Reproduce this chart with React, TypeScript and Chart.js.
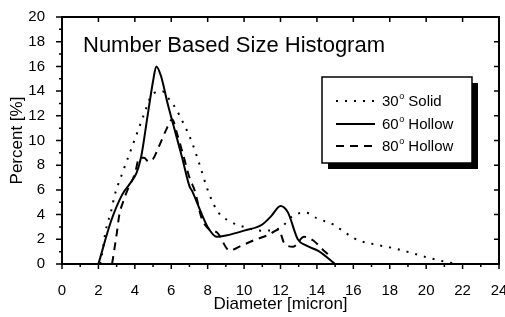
import React, { useEffect, useRef } from "react";
import { Chart, registerables } from "chart.js";

Chart.register(...registerables);

const FONT = "'Liberation Sans', Arial, Helvetica, sans-serif";

const chartTitle = "Number Based Size Histogram";
const xAxisTitle = "Diameter [micron]";
const yAxisTitle = "Percent [%]";
const seriesNames = ["30° Solid", "60° Hollow", "80° Hollow"];

// 30° Solid (dotted)
const solid30X = [2.1, 2.25, 2.4, 2.7, 2.9, 3.25, 3.8, 4.5, 4.9, 5.5, 5.8, 6.2, 6.7, 7.1, 7.5, 8.1, 8.6, 9.1, 10.0, 11.0, 12.0, 12.5, 13.0, 13.4, 14.0, 14.9, 15.4, 15.9, 16.3, 17.3, 18.3, 19.3, 20.0, 21.0, 21.7];
const solid30Y = [0, 1.3, 2.7, 4.3, 5.6, 7.1, 9.3, 12.1, 13.6, 14.0, 13.5, 12.7, 11.3, 10.0, 8.3, 5.6, 4.15, 3.55, 3.0, 2.7, 2.9, 3.7, 4.1, 4.15, 3.7, 3.2, 2.7, 2.2, 1.9, 1.55, 1.25, 0.85, 0.55, 0.2, 0];

// 60° Hollow (solid line)
const hollow60X = [2, 2.7, 3.3, 3.7, 4.1, 4.35, 4.7, 5.0, 5.18, 5.44, 5.8, 6.2, 6.6, 7.0, 7.15, 7.6, 8.0, 8.5, 9.0, 10.0, 11.0, 11.5, 12.0, 12.4, 12.95, 13.4, 14.1, 15.0];
const hollow60Y = [0, 3.5, 5.6, 6.45, 7.4, 8.7, 12.0, 14.8, 16.0, 15.2, 13.0, 10.8, 8.6, 6.3, 5.9, 4.3, 3.0, 2.2, 2.3, 2.7, 3.2, 3.9, 4.7, 4.2, 2.0, 1.5, 1.05, 0];

// 80° Hollow (dashed)
const hollow80X = [2.75, 3.0, 3.15, 3.35, 3.6, 4.0, 4.25, 4.5, 4.75, 5.0, 5.35, 5.7, 6.05, 6.35, 6.7, 7.0, 7.3, 7.65, 8.0, 8.55, 9.2, 9.8, 10.5, 11.4, 11.9, 12.2, 12.7, 13.3, 13.8, 14.3, 14.6];
const hollow80Y = [0, 2.4, 4.0, 5.0, 6.0, 7.3, 8.6, 8.6, 8.3, 8.5, 9.6, 10.8, 11.7, 10.4, 8.6, 7.0, 5.9, 3.8, 2.9, 2.5, 1.1, 1.45, 1.9, 2.4, 2.8, 1.7, 1.4, 2.2, 1.9, 1.2, 0.8];

const xMin = 0, xMax = 24, xStep = 2;
const yMin = 0, yMax = 20, yStep = 2;

const toPoints = (xs: number[], ys: number[]) => xs.map((x, i) => ({ x, y: ys[i] }));

const framePlugin = {
  id: "frameAndLegend",
  afterDatasetsDraw(chart: any) {
    const { ctx, chartArea, scales } = chart;
    const { left, right, top, bottom } = chartArea;
    const xs = scales.x, ys = scales.y;
    ctx.save();
    ctx.strokeStyle = "#000";
    ctx.lineWidth = 2;
    ctx.strokeRect(left, top, right - left, bottom - top);
    ctx.lineWidth = 1.5;
    ctx.beginPath();
    for (let v = xMin; v <= xMax; v++) {
      const px = xs.getPixelForValue(v);
      const major = v % xStep === 0;
      ctx.moveTo(px, bottom);
      ctx.lineTo(px, bottom + (major ? 5 : 3));
      if (major && v !== xMin && v !== xMax) {
        ctx.moveTo(px, top);
        ctx.lineTo(px, top + 5);
      }
    }
    for (let v = yMin; v <= yMax; v++) {
      const py = ys.getPixelForValue(v);
      const major = v % yStep === 0;
      ctx.moveTo(left, py);
      ctx.lineTo(left - (major ? 6 : 3), py);
      if (major && v !== yMin && v !== yMax) {
        ctx.moveTo(right, py);
        ctx.lineTo(right - 5, py);
      }
    }
    ctx.stroke();

    // title
    ctx.fillStyle = "#000";
    ctx.font = `22px ${FONT}`;
    ctx.textBaseline = "alphabetic";
    ctx.textAlign = "left";
    ctx.fillText(chartTitle, 83, 52);

    // legend box with shadow
    const bx = 322, by = 77, bw = 150, bh = 86;
    ctx.fillStyle = "#000";
    ctx.fillRect(bx + 6, by + 6, bw, bh);
    ctx.fillStyle = "#fff";
    ctx.fillRect(bx, by, bw, bh);
    ctx.lineWidth = 1.5;
    ctx.strokeStyle = "#000";
    ctx.strokeRect(bx, by, bw, bh);

    const baselines = [106, 129, 151];
    chart.data.datasets.forEach((ds: any, i: number) => {
      const yb = baselines[i];
      const ly = yb - 5;
      ctx.save();
      ctx.strokeStyle = "#000";
      ctx.lineWidth = ds.borderWidth;
      ctx.setLineDash(ds.borderDash || []);
      ctx.beginPath();
      ctx.moveTo(336, ly);
      ctx.lineTo(375, ly);
      ctx.stroke();
      ctx.restore();
      const label: string = ds.label;
      const idx = label.indexOf("°");
      const pre = idx >= 0 ? label.slice(0, idx) : label;
      const post = idx >= 0 ? label.slice(idx + 1) : "";
      ctx.fillStyle = "#000";
      ctx.font = `15px ${FONT}`;
      let tx = 382;
      ctx.fillText(pre, tx, yb);
      tx += ctx.measureText(pre).width;
      if (idx >= 0) {
        ctx.font = `9px ${FONT}`;
        ctx.fillText("o", tx + 0.5, yb - 7);
        tx += ctx.measureText("o").width + 0.5;
        ctx.font = `15px ${FONT}`;
      }
      ctx.fillText(post, tx, yb);
    });
    ctx.restore();
  },
};

export default function App() {
  const ref = useRef<HTMLCanvasElement | null>(null);
  useEffect(() => {
    if (!ref.current) return;
    const chart = new Chart(ref.current, {
      type: "line",
      data: {
        datasets: [
          {
            label: seriesNames[0],
            data: toPoints(solid30X, solid30Y),
            borderColor: "#000",
            borderWidth: 2,
            borderDash: [2, 7],
            pointRadius: 0,
            cubicInterpolationMode: "monotone",
            fill: false,
          },
          {
            label: seriesNames[1],
            data: toPoints(hollow60X, hollow60Y),
            borderColor: "#000",
            borderWidth: 2,
            pointRadius: 0,
            cubicInterpolationMode: "monotone",
            fill: false,
          },
          {
            label: seriesNames[2],
            data: toPoints(hollow80X, hollow80Y),
            borderColor: "#000",
            borderWidth: 2,
            borderDash: [8, 6],
            pointRadius: 0,
            cubicInterpolationMode: "monotone",
            fill: false,
          },
        ],
      },
      options: {
        animation: false,
        responsive: false,
        layout: { padding: { top: 17, right: 6, left: 0, bottom: 0 } },
        plugins: { legend: { display: false }, tooltip: { enabled: false }, title: { display: false } },
        scales: {
          x: {
            type: "linear",
            min: xMin,
            max: xMax,
            ticks: { stepSize: xStep, color: "#000", font: { size: 15, family: FONT }, padding: 10, maxRotation: 0, autoSkip: false },
            grid: { display: false },
            border: { display: false },
            title: { display: true, text: xAxisTitle, color: "#000", font: { size: 17, family: FONT }, padding: { top: 0, bottom: 2 } },
            afterFit: (s: any) => {
              s.height = 53;
              s.paddingLeft = 0;
              s.paddingRight = 0;
            },
          },
          y: {
            type: "linear",
            min: yMin,
            max: yMax,
            ticks: { stepSize: yStep, color: "#000", font: { size: 15, family: FONT }, padding: 9 },
            grid: { display: false },
            border: { display: false },
            title: { display: true, text: yAxisTitle, color: "#000", font: { size: 17, family: FONT }, padding: { top: 7, bottom: 0 } },
            afterFit: (s: any) => {
              s.width = 62;
              s.paddingTop = 0;
              s.paddingBottom = 0;
            },
          },
        },
      },
      plugins: [framePlugin],
    } as any);
    return () => chart.destroy();
  }, []);
  return (
    <div style={{ position: "fixed", left: 0, top: 0, width: 505, height: 317, background: "#fff" }}>
      <canvas ref={ref} width={505} height={317} style={{ display: "block" }} />
    </div>
  );
}
